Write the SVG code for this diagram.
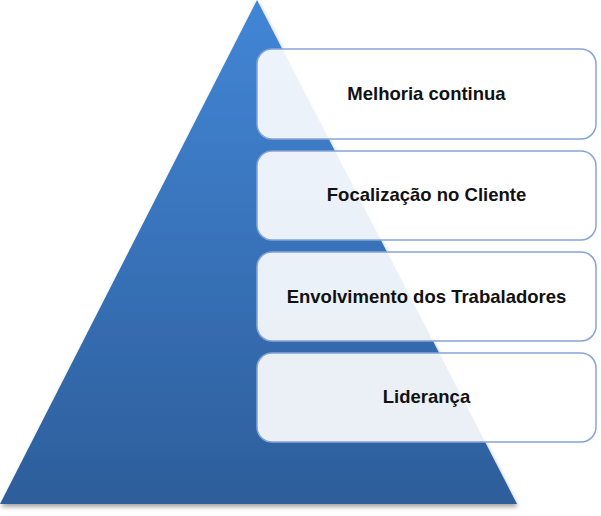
<svg xmlns="http://www.w3.org/2000/svg" width="601" height="516" viewBox="0 0 601 516">
<defs>
<linearGradient id="tri" x1="0" y1="0" x2="0" y2="1">
<stop offset="0" stop-color="#4286d6"/>
<stop offset="1" stop-color="#2d5e9b"/>
</linearGradient>
<filter id="sh" x="-10%" y="-10%" width="120%" height="130%">
<feGaussianBlur in="SourceAlpha" stdDeviation="2"/>
<feOffset dx="1" dy="3"/>
<feComponentTransfer><feFuncA type="linear" slope="0.35"/></feComponentTransfer>
<feMerge><feMergeNode/><feMergeNode in="SourceGraphic"/></feMerge>
</filter>
</defs>
<style>
.box{fill:#ffffff;fill-opacity:0.9;stroke:#86a4d6;stroke-width:1.5}
.lbl{font-family:"Liberation Sans",Arial,sans-serif;font-weight:bold;font-size:18.5px;fill:#111111;text-anchor:middle}
</style>
<rect width="601" height="516" fill="#ffffff"/>
<g id="pyramid">
<polygon points="257,0 0,504 517,504" fill="url(#tri)" filter="url(#sh)"/>
</g>
<g id="connectors"></g>
<g id="n1">
<rect class="box" x="257" y="49" width="339" height="90" rx="15"/>
<text class="lbl" x="426.5" y="100">Melhoria continua</text>
</g>
<g id="n2">
<rect class="box" x="257" y="151" width="339" height="89" rx="15"/>
<text class="lbl" x="426.5" y="201">Focalização no Cliente</text>
</g>
<g id="n3">
<rect class="box" x="257" y="252" width="339" height="89" rx="15"/>
<text class="lbl" x="426.5" y="303">Envolvimento dos Trabaladores</text>
</g>
<g id="n4">
<rect class="box" x="257" y="353" width="339" height="89" rx="15"/>
<text class="lbl" x="426.5" y="403">Liderança</text>
</g>
</svg>
